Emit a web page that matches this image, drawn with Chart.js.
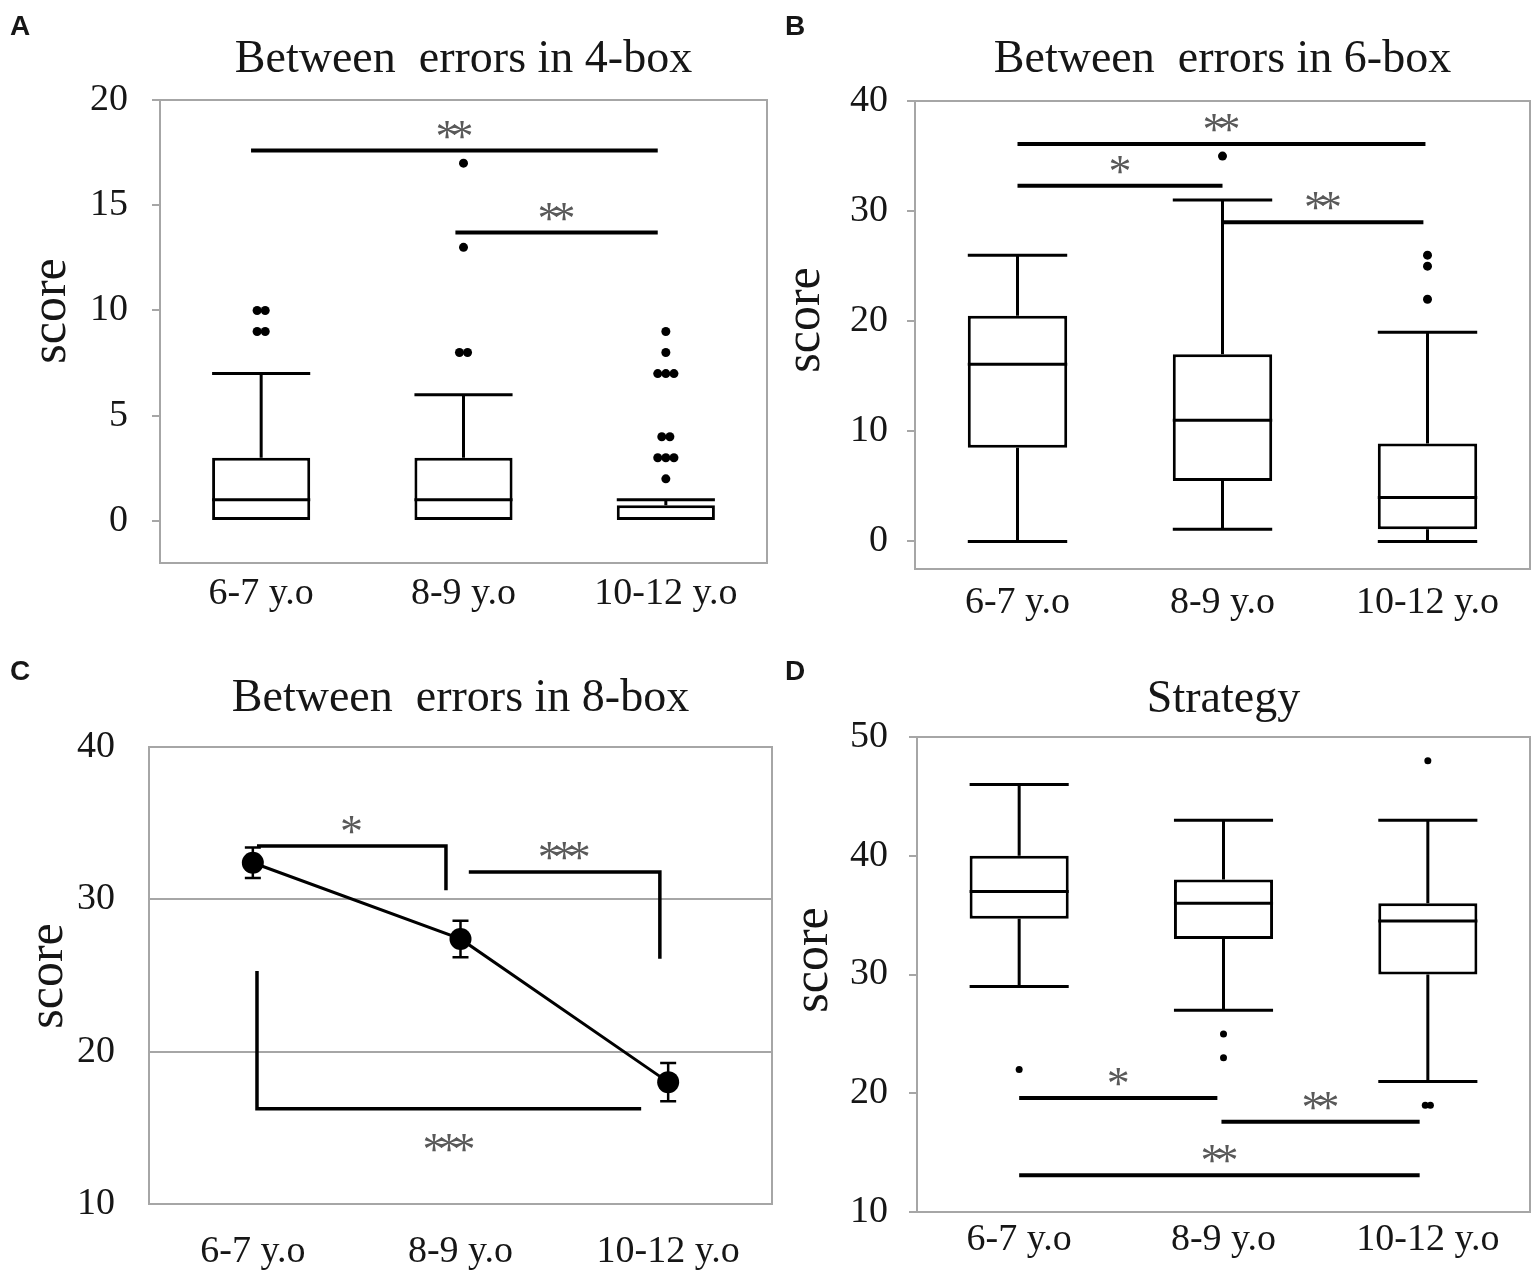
<!DOCTYPE html>
<html>
<head>
<meta charset="UTF-8">
<title>Between errors and strategy by age group</title>
<script src="https://cdn.jsdelivr.net/npm/chart.js"></script>
<style>
  body { margin: 0; background: #fff; }
  #wrap { position: relative; width: 1535px; height: 1279px; }
  .panel { position: absolute; }
</style>
</head>
<body>
<div id="wrap">
  <div class="panel" style="left:0;top:0;width:768px;height:640px"><canvas id="chartA"></canvas></div>
  <div class="panel" style="left:768px;top:0;width:767px;height:640px"><canvas id="chartB"></canvas></div>
  <div class="panel" style="left:0;top:640px;width:776px;height:639px"><canvas id="chartC"></canvas></div>
  <div class="panel" style="left:768px;top:640px;width:767px;height:639px"><canvas id="chartD"></canvas></div>
</div>

<script>
const groups = ['6-7 y.o', '8-9 y.o', '10-12 y.o'];
const yTitle = 'score';

// A - between errors in 4-box
const aLow = [0, 0, 0];
const aQ1 = [0, 0, 0];
const aMedian = [1, 1, 0];
const aQ3 = [3, 3, 0.75];
const aHigh = [7, 6, 1];
const aOutliers = [[9, 9, 10, 10], [8, 8, 13, 17], [2, 3, 3, 3, 4, 4, 7, 7, 7, 8, 9]];
const aTicks = [0, 5, 10, 15, 20];
const aSig = [
    { from: -0.05, to: 1.96, y: 17.6, text: '**' },
    { from: 0.96, to: 1.96, y: 13.7, text: '**' }
];

// B - between errors in 6-box
const bLow = [0, 1.1, 0];
const bQ1 = [8.5, 5.5, 1.1];
const bMedian = [16.1, 11, 4];
const bQ3 = [20.5, 17, 8.9];
const bHigh = [26, 31, 19];
const bOutliers = [[], [35], [22, 25, 26]];
const bTicks = [0, 10, 20, 30, 40];
const bSig = [
    { from: 0, to: 1.99, y: 36.1, text: '**' },
    { from: 0, to: 1.0, y: 32.3, text: '*' },
    { from: 1.0, to: 1.98, y: 29.0, text: '**' }
];

// C - between errors in 8-box (mean and error)
const cMean = [32.4, 27.4, 18.0];
const cError = [1.0, 1.2, 1.25];
const cTicks = [10, 20, 30, 40];
const cSig = [
    { from: 0.02, to: 0.93, y: 33.5, dropTo: 30.6, text: '*' },
    { from: 1.04, to: 1.96, y: 31.8, dropTo: 26.1, text: '***' },
    { from: 0.02, to: 1.87, y: 16.25, dropFrom: 25.3, text: '***', below: true }
];

// D - strategy
const dLow = [29, 27, 21];
const dQ1 = [34.7, 33, 30];
const dMedian = [37, 36, 34.5];
const dQ3 = [40, 38, 36];
const dHigh = [46, 43, 43];
const dOutliers = [[22], [23, 25], [19, 19, 48]];
const dTicks = [10, 20, 30, 40, 50];
const dSig = [
    { from: 0, to: 0.97, y: 19.6, text: '*' },
    { from: 0.99, to: 1.96, y: 17.6, text: '**' },
    { from: 0, to: 1.96, y: 13.1, text: '**' }
];

const serif = "'Liberation Serif', 'Times New Roman', serif";
const ink = '#000';
const textInk = '#161616';
const frameGray = '#a6a6a6';
const starGray = '#595959';
const boxLine = 3;

// frame, panel letter and rotated axis label
const decor = {
    id: 'decor',
    beforeDatasetsDraw(chart) {
        const { ctx, chartArea: ca } = chart;
        ctx.save();
        ctx.strokeStyle = frameGray;
        ctx.lineWidth = 2;
        ctx.strokeRect(ca.left, ca.top, ca.right - ca.left, ca.bottom - ca.top);
        ctx.restore();
    },
    afterDraw(chart, args, o) {
        const ctx = chart.ctx;
        ctx.save();
        ctx.fillStyle = textInk;
        ctx.font = "bold 28px 'Liberation Sans', Arial, sans-serif";
        ctx.textBaseline = 'alphabetic';
        ctx.fillText(o.letter, o.letterX, o.letterY);
        ctx.translate(o.labelX, o.labelY);
        ctx.rotate(-Math.PI / 2);
        ctx.font = '50px ' + serif;
        ctx.textAlign = 'center';
        ctx.textBaseline = 'middle';
        ctx.fillText(yTitle, 0, 0);
        ctx.restore();
    }
};

// medians, whiskers and caps on top of the floating bars
const whiskers = {
    id: 'whiskers',
    afterDatasetsDraw(chart, args, o) {
        if (!o.low) return;
        const { ctx } = chart;
        const y = chart.scales.y;
        const bars = chart.getDatasetMeta(0).data;
        ctx.save();
        ctx.strokeStyle = ink;
        ctx.lineWidth = boxLine;
        ctx.beginPath();
        bars.forEach((bar, i) => {
            const half = bar.width / 2;
            const x = bar.x;
            const pMed = y.getPixelForValue(o.median[i]);
            const pQ1 = y.getPixelForValue(o.q1[i]);
            const pQ3 = y.getPixelForValue(o.q3[i]);
            const pLow = y.getPixelForValue(o.low[i]);
            const pHigh = y.getPixelForValue(o.high[i]);
            if (o.median[i] !== o.q1[i]) {
                ctx.moveTo(x - half, pMed); ctx.lineTo(x + half, pMed);
            }
            if (o.high[i] !== o.q3[i]) {
                ctx.moveTo(x, pQ3); ctx.lineTo(x, pHigh);
                ctx.moveTo(x - half, pHigh); ctx.lineTo(x + half, pHigh);
            }
            if (o.low[i] !== o.q1[i]) {
                ctx.moveTo(x, pQ1); ctx.lineTo(x, pLow);
                ctx.moveTo(x - half, pLow); ctx.lineTo(x + half, pLow);
            }
        });
        ctx.stroke();
        ctx.restore();
    }
};

// error bars for the mean plot
const errorBars = {
    id: 'errorBars',
    afterDatasetsDraw(chart, args, o) {
        if (!o.err) return;
        const { ctx } = chart;
        const y = chart.scales.y;
        const pts = chart.getDatasetMeta(0).data;
        ctx.save();
        ctx.strokeStyle = ink;
        ctx.lineWidth = 2.5;
        ctx.beginPath();
        pts.forEach((pt, i) => {
            const m = o.mean[i];
            const top = y.getPixelForValue(m + o.err[i]);
            const bot = y.getPixelForValue(m - o.err[i]);
            ctx.moveTo(pt.x, top); ctx.lineTo(pt.x, bot);
            ctx.moveTo(pt.x - 8, top); ctx.lineTo(pt.x + 8, top);
            ctx.moveTo(pt.x - 8, bot); ctx.lineTo(pt.x + 8, bot);
        });
        ctx.stroke();
        ctx.restore();
    }
};

// significance bars and brackets
const sigBars = {
    id: 'sigBars',
    afterDatasetsDraw(chart, args, o) {
        if (!o.items) return;
        const { ctx } = chart;
        const { x, y } = chart.scales;
        ctx.save();
        o.items.forEach(s => {
            const x0 = x.getPixelForValue(s.from);
            const x1 = x.getPixelForValue(s.to);
            const py = y.getPixelForValue(s.y);
            ctx.strokeStyle = ink;
            ctx.lineWidth = o.width;
            ctx.beginPath();
            if (s.dropFrom !== undefined) {
                ctx.moveTo(x0, y.getPixelForValue(s.dropFrom));
                ctx.lineTo(x0, py);
            } else {
                ctx.moveTo(x0, py);
            }
            ctx.lineTo(x1, py);
            if (s.dropTo !== undefined) ctx.lineTo(x1, y.getPixelForValue(s.dropTo));
            ctx.stroke();
            ctx.fillStyle = starGray;
            ctx.font = '46px ' + serif;
            ctx.letterSpacing = '-8px';
            ctx.textAlign = 'center';
            ctx.textBaseline = 'alphabetic';
            ctx.fillText(s.text, (x0 + x1) / 2 - 4, s.below ? py + 56 : py + 1);
        });
        ctx.restore();
    }
};

function baseOptions(p) {
    return {
        responsive: true,
        maintainAspectRatio: false,
        animation: false,
        layout: { autoPadding: false, padding: { left: 0, right: p.padRight, top: 0, bottom: 0 } },
        plugins: {
            legend: { display: false },
            tooltip: { enabled: false },
            title: {
                display: true,
                text: p.title,
                fullSize: false,
                color: textInk,
                font: { family: serif, size: 46, weight: 'normal', lineHeight: 1.2 },
                padding: { top: p.titleTop, bottom: p.plotTop - p.titleTop - 55.2 }
            },
            decor: { letter: p.letter, letterX: p.letterX, letterY: p.letterY, labelX: p.labelX, labelY: p.labelY },
            whiskers: p.box || {},
            errorBars: p.errors || {},
            sigBars: { items: p.sig, width: p.sigWidth }
        },
        scales: {
            x: {
                type: 'linear',
                min: -0.5,
                max: 2.5,
                offset: false,
                afterBuildTicks: s => { s.ticks = groups.map((g, i) => ({ value: i })); },
                afterFit: s => {
                    s.height = p.xHeight;
                    s.paddingLeft = 0;
                    s.paddingRight = 0;
                },
                grid: { display: false, drawTicks: false },
                border: { display: false },
                ticks: {
                    padding: p.xPad,
                    color: textInk,
                    font: { family: serif, size: 38 },
                    callback: v => groups[v]
                }
            },
            y: {
                type: 'linear',
                min: p.yMin,
                max: p.yMax,
                afterBuildTicks: s => { s.ticks = p.ticks.map(v => ({ value: v })); },
                afterFit: s => { s.width = p.yWidth; },
                grid: {
                    drawOnChartArea: !!p.gridLines,
                    drawTicks: !p.gridLines,
                    tickLength: 8,
                    color: frameGray,
                    lineWidth: 2
                },
                border: { display: false },
                ticks: {
                    padding: p.yPad,
                    color: textInk,
                    font: { family: serif, size: 38 }
                }
            }
        }
    };
}

function spreadOutliers(lists, spread) {
    const pts = [];
    lists.forEach((vals, i) => {
        const counts = new Map();
        vals.forEach(v => counts.set(v, (counts.get(v) || 0) + 1));
        counts.forEach((n, v) => {
            for (let j = 0; j < n; j++) pts.push({ x: i + (j - (n - 1) / 2) * spread, y: v });
        });
    });
    return pts;
}

function boxChart(id, d, p) {
    p.box = { low: d.low, q1: d.q1, median: d.median, q3: d.q3, high: d.high };
    return new Chart(document.getElementById(id), {
        type: 'bar',
        data: {
            datasets: [{
                type: 'bar',
                data: groups.map((g, i) => ({ x: i, y: [d.q1[i], d.q3[i]] })),
                backgroundColor: '#fff',
                borderColor: ink,
                borderWidth: boxLine,
                borderSkipped: false,
                barPercentage: 0.485,
                categoryPercentage: 1
            }, {
                type: 'scatter',
                data: spreadOutliers(d.outliers, p.spread),
                pointRadius: p.dot,
                pointBackgroundColor: ink,
                pointBorderWidth: 0
            }]
        },
        options: baseOptions(p),
        plugins: [decor, whiskers, sigBars]
    });
}

boxChart('chartA',
    { low: aLow, q1: aQ1, median: aMedian, q3: aQ3, high: aHigh, outliers: aOutliers },
    { title: 'Between  errors in 4-box', letter: 'A', letterX: 10, letterY: 35, labelX: 52, labelY: 311,
      yMin: -2, yMax: 20, ticks: aTicks, sig: aSig, sigWidth: 4,
      plotTop: 100, titleTop: 32, xHeight: 77, yWidth: 160, padRight: 1, xPad: 8, yPad: 24,
      dot: 4.5, spread: 0.04 });

boxChart('chartB',
    { low: bLow, q1: bQ1, median: bMedian, q3: bQ3, high: bHigh, outliers: bOutliers },
    { title: 'Between  errors in 6-box', letter: 'B', letterX: 17, letterY: 35, labelX: 38, labelY: 320,
      yMin: -2.5, yMax: 40, ticks: bTicks, sig: bSig, sigWidth: 4,
      plotTop: 101, titleTop: 32, xHeight: 71, yWidth: 147, padRight: 5, xPad: 11, yPad: 19,
      dot: 4.5, spread: 0.04 });

boxChart('chartD',
    { low: dLow, q1: dQ1, median: dMedian, q3: dQ3, high: dHigh, outliers: dOutliers },
    { title: 'Strategy', letter: 'D', letterX: 17, letterY: 40, labelX: 46, labelY: 320,
      yMin: 10, yMax: 50, ticks: dTicks, sig: dSig, sigWidth: 4,
      plotTop: 97, titleTop: 32, xHeight: 67, yWidth: 149, padRight: 5, xPad: 5, yPad: 21,
      dot: 3.5, spread: 0.025 });

const cParams = {
    title: 'Between  errors in 8-box', letter: 'C', letterX: 10, letterY: 40, labelX: 49, labelY: 336,
    yMin: 10, yMax: 40, ticks: cTicks, sig: cSig, sigWidth: 3.5, gridLines: true,
    plotTop: 107, titleTop: 31, xHeight: 75, yWidth: 149, padRight: 4, xPad: 25, yPad: 34,
    errors: { mean: cMean, err: cError }
};
new Chart(document.getElementById('chartC'), {
    type: 'line',
    data: {
        datasets: [{
            data: groups.map((g, i) => ({ x: i, y: cMean[i] })),
            borderColor: ink,
            borderWidth: 3,
            pointRadius: 11,
            pointBackgroundColor: ink,
            pointBorderWidth: 0,
            tension: 0
        }]
    },
    options: baseOptions(cParams),
    plugins: [decor, errorBars, sigBars]
});
</script>
</body>
</html>
